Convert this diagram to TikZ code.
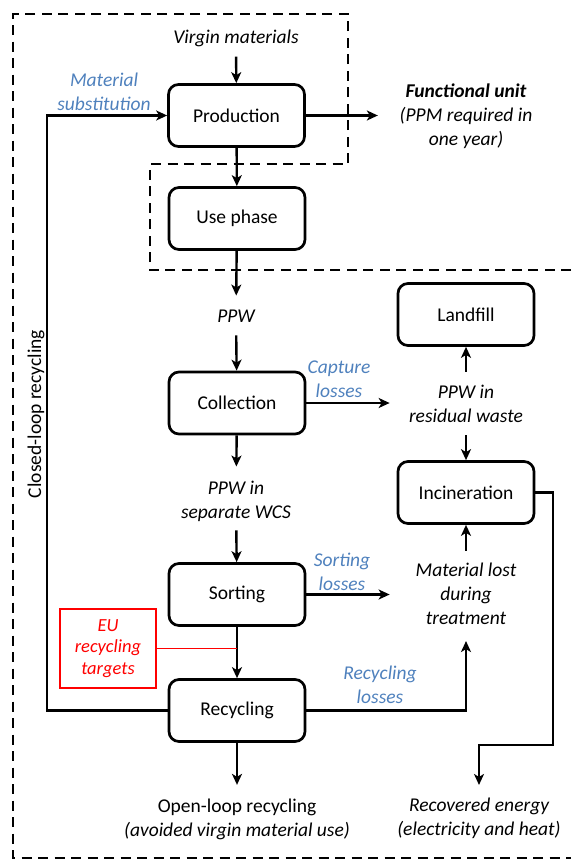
\documentclass[tikz,border=0pt]{standalone}
\usepackage{fontspec}
\setmainfont{Carlito}
\usepackage{xcolor}
\usepackage{tikz}
\usetikzlibrary{arrows.meta}

\definecolor{lossblue}{HTML}{4F81BD}
\definecolor{targetred}{HTML}{FF0000}

\begin{document}
\begin{tikzpicture}[x=1pt, y=-1pt,
	font=\fontsize{19.5}{24}\selectfont,
	box/.style={draw, line width=2.7pt, rounded corners=10pt, minimum width=136pt, minimum height=62pt, inner sep=0pt},
	flow/.style={inner sep=0pt, align=center, font=\fontsize{19.5}{24}\selectfont\itshape},
	loss/.style={flow, text=lossblue},
	arr/.style={line width=2.4pt, -{Stealth[length=11pt, width=10pt, inset=3pt]}},
	boundary/.style={line width=2.8pt, dash pattern=on 10pt off 6.5pt}
]

\useasboundingbox (0,0) rectangle (571,862);

\draw[boundary] (571,270)--(150,270)--(150,164)--(348,164)--(348,14)--(13,14)--(13,858)--(571,858);

\node[box] (prod) at (236.5,115.5) {Production};
\node[box] (use) at (237,218.5) {Use phase};
\node[box] (coll) at (237,403) {Collection};
\node[box] (sort) at (237,594.5) {Sorting};
\node[box] (rec) at (237,710.5) {Recycling};
\node[box] (land) at (466,314.5) {Landfill};
\node[box] (incin) at (466,492.5) {Incineration};

\node[flow] (virgin) at (236,38) {Virgin materials};
\node[flow] (ppw) at (236,316) {PPW};
\node[flow] (wcs) at (236,501) {PPW in\\separate WCS};
\node[flow] (resid) at (466,403.5) {PPW in\\residual waste};
\node[flow] (lost) at (466,594) {Material lost\\during\\treatment};
\node[flow] (func) at (466,116) {\textbf{Functional unit}\\(PPM required in\\one year)};
\node[inner sep=0pt, align=center] (open) at (237,819.5) {Open-loop recycling\\\textit{(avoided virgin material use)}};
\node[flow] (energy) at (479,818.5) {Recovered energy\\(electricity and heat)};

\node[loss] (subst) at (104,92) {Material\\substitution};
\node[loss] (capture) at (339,379.5) {Capture\\losses};
\node[loss] (sortloss) at (342,571.5) {Sorting\\losses};
\node[loss] (recloss) at (380,684.5) {Recycling\\losses};

\node[draw=targetred, line width=1.8pt, text=targetred, minimum width=96pt, minimum height=79pt, inner sep=0pt, align=center, font=\fontsize{18.5}{21.5}\selectfont\itshape] (eu) at (108,648.5) {EU\\recycling\\targets};

\node[rotate=90, inner sep=0pt] (closed) at (36,414) {Closed-loop recycling};

\coordinate (loopx) at (47,0);
\coordinate (heatx) at (553,0);
\coordinate (bend) at (553,745);

\draw[arr, shorten <=10pt] (virgin) -- (prod);
\draw[arr] (prod) -- (use);
\draw[arr, shorten >=14pt] (use) -- (ppw);
\draw[arr, shorten <=13pt] (ppw) -- (coll);
\draw[arr, shorten >=14pt] (coll) -- (wcs);
\draw[arr, shorten <=9pt] (wcs) -- (sort);
\draw[arr] (sort) -- (rec);
\draw[arr, shorten >=14pt] (rec) -- (open);

\draw[arr] (prod.east) -- ++(72,0);
\draw[arr] (rec.west) -- (rec.west -| loopx) |- (prod.west);

\draw[arr, shorten >=7pt] (coll.east) -- (coll.east -| land.west);
\draw[arr, shorten >=7pt] (sort.east) -- (sort.east -| incin.west);
\draw[arr, shorten <=13pt] (resid) -- (land);
\draw[arr, shorten <=13pt] (resid) -- (incin);
\draw[arr, shorten <=12pt] (lost) -- (incin);
\draw[arr, shorten >=16pt] (rec.east) -| (lost.south);
\draw[arr, shorten >=13pt] (incin.east) -- (incin.east -| heatx) -- (bend) -| (energy.north);

\draw[targetred, line width=1.8pt] (eu.east) -- (eu.east -| sort.south);

\end{tikzpicture}
\end{document}
